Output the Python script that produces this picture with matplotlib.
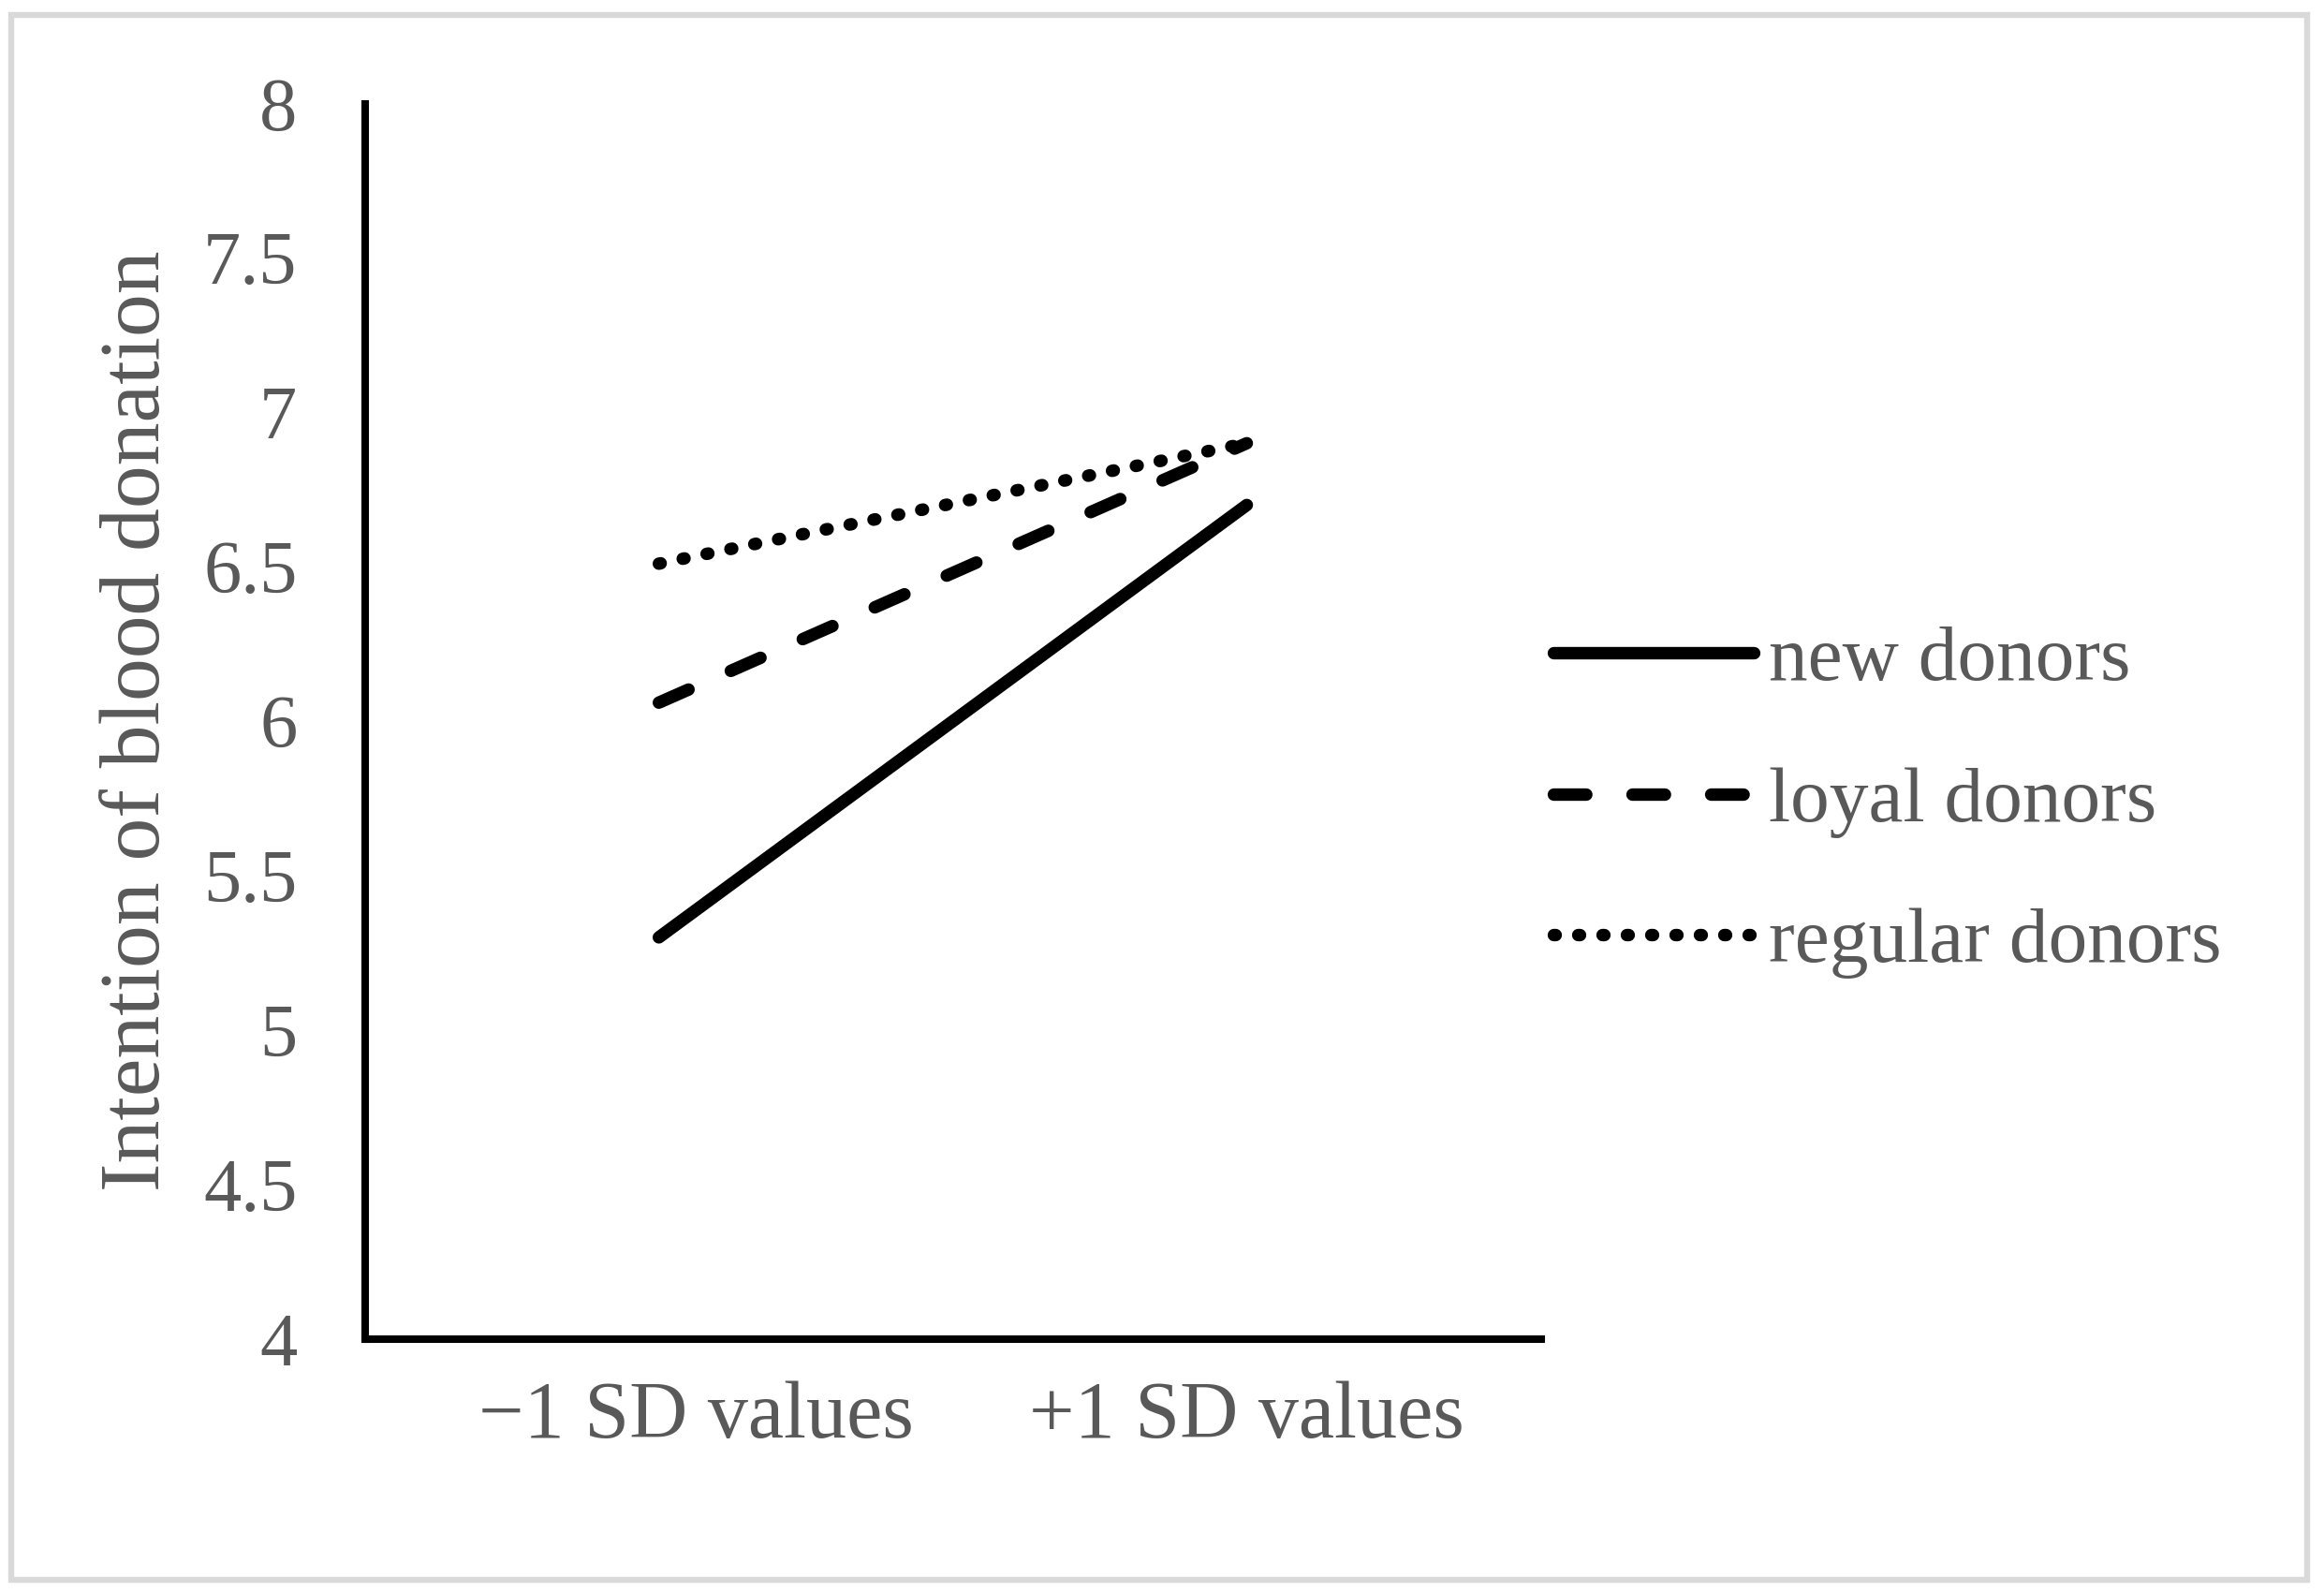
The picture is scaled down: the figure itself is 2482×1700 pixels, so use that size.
import matplotlib.pyplot as plt
from matplotlib.patches import Rectangle
from matplotlib.transforms import ScaledTranslation

categories = ['\u22121 SD values', '+1 SD values']
new_donors = [5.30, 6.70]
loyal_donors = [6.06, 6.90]
regular_donors = [6.51, 6.90]
series_names = ['new donors', 'loyal donors', 'regular donors']
y_ticks = [4, 4.5, 5, 5.5, 6, 6.5, 7, 7.5, 8]
y_tick_labels = ['4', '4.5', '5', '5.5', '6', '6.5', '7', '7.5', '8']

text_grey = '#595959'
plt.rcParams['font.family'] = ['Liberation Serif', 'DejaVu Serif']

fig = plt.figure(figsize=(12.41, 8.5), dpi=200)
ax = fig.add_axes([0.157, 0.159, 0.506, 0.776])

x = list(range(len(categories)))
lw = 4.8
ax.plot(x, new_donors, color='black', lw=lw, solid_capstyle='round', label=series_names[0])
ax.plot(x, loyal_donors, color='black', lw=lw, linestyle=(0, (2.6, 3.7)),
        dash_capstyle='round', label=series_names[1])
ax.plot(x, regular_donors, color='black', lw=lw, linestyle=(0, (0.15, 1.8)),
        dash_capstyle='round', label=series_names[2])

ax.set_xlim(-0.5, 1.5)
ax.set_ylim(4, 8)
ax.set_xticks(x)
ax.set_xticklabels(categories, fontsize=31)
ax.set_yticks(y_ticks)
ax.set_yticklabels(y_tick_labels, fontsize=29)
ax.tick_params(length=0, colors=text_grey)
ax.tick_params(axis='y', pad=26)
ax.tick_params(axis='x', pad=16)
# first category label sits a bit right of its tick in the original
first = ax.get_xticklabels()[0]
first.set_transform(first.get_transform() + ScaledTranslation(0.2, 0, fig.dpi_scale_trans))
ax.set_ylabel('Intention of blood donation', fontsize=33, color=text_grey, labelpad=10)

for side in ['top', 'right']:
    ax.spines[side].set_visible(False)
for side in ['left', 'bottom']:
    ax.spines[side].set_linewidth(2.9)
    ax.spines[side].set_color('black')

leg = fig.legend(loc='center left', bbox_to_anchor=(0.638, 0.496), frameon=False,
                 fontsize=30, handlelength=2.57, handletextpad=0.2, labelspacing=0.89,
                 labelcolor=text_grey)

fig.patches.append(Rectangle((0.0048, 0.0076), 0.9879, 0.983, transform=fig.transFigure,
                             fill=False, edgecolor='#d9d9d9', lw=2.3))

fig.savefig('out.png', dpi=200, facecolor='white')
